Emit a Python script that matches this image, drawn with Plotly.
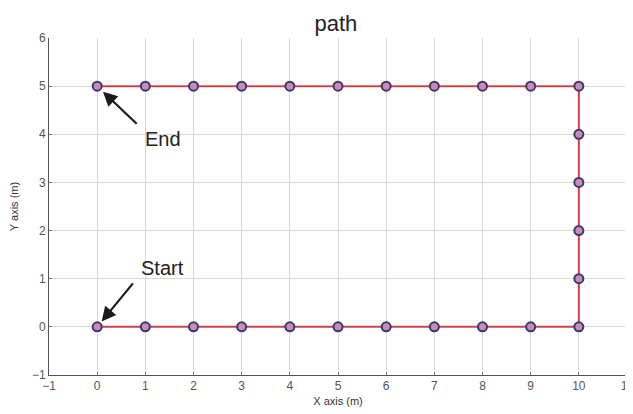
import plotly.graph_objects as go

path_x = [0, 1, 2, 3, 4, 5, 6, 7, 8, 9, 10, 10, 10, 10, 10, 10, 9, 8, 7, 6, 5, 4, 3, 2, 1, 0]
path_y = [0, 0, 0, 0, 0, 0, 0, 0, 0, 0, 0, 1, 2, 3, 4, 5, 5, 5, 5, 5, 5, 5, 5, 5, 5, 5]
x_ticks = [-1, 0, 1, 2, 3, 4, 5, 6, 7, 8, 9, 10, 11]
y_ticks = [-1, 0, 1, 2, 3, 4, 5, 6]

fig = go.Figure()
fig.add_trace(go.Scatter(
    x=path_x, y=path_y, mode="lines+markers",
    line=dict(color="#d2404a", width=2),
    marker=dict(symbol="circle", size=9, color="#c98bb8",
                line=dict(color="#3a3a6a", width=2)),
    showlegend=False))

font = "Liberation Sans, Arial, sans-serif"
# arrows
fig.add_annotation(x=0, y=5, ax=41, ay=39, text="", showarrow=True,
                   arrowhead=2, arrowsize=1.3, arrowwidth=2.2, arrowcolor="#1a1a1a", standoff=8)
fig.add_annotation(x=0, y=0, ax=37, ay=-45, text="", showarrow=True,
                   arrowhead=2, arrowsize=1.3, arrowwidth=2.2, arrowcolor="#1a1a1a", standoff=7)
fig.add_annotation(x=0, y=5, text="End", showarrow=False,
                   xshift=66, yshift=-53, font=dict(family=font, size=20, color="#222"))
fig.add_annotation(x=0, y=0, text="Start", showarrow=False,
                   xshift=65, yshift=59, font=dict(family=font, size=20, color="#222"))

fig.update_layout(
    width=633, height=414,
    margin=dict(l=41, r=14, t=30, b=47, autoexpand=False),
    paper_bgcolor="white", plot_bgcolor="white",
    title=dict(text="path", x=0.518, xanchor="center", y=0.962, yanchor="middle",
               font=dict(family=font, size=22, color="#222"), automargin=False),
    font=dict(family=font),
)
fig.update_xaxes(range=[-1, 11], tickvals=x_ticks, showgrid=True, gridcolor="#d8d8d8",
                 zeroline=False, showline=True, linecolor="#555", linewidth=1,
                 ticks="inside", ticklen=3, tickcolor="#777", automargin=False,
                 tickfont=dict(size=12, color="#555"),
                 title=dict(text="X axis (m)", font=dict(size=11, color="#333"), standoff=4))
fig.update_yaxes(range=[-1, 6], tickvals=y_ticks, showgrid=True, gridcolor="#d8d8d8",
                 zeroline=False, showline=True, linecolor="#555", linewidth=1,
                 ticks="inside", ticklen=3, tickcolor="#777", automargin=False,
                 tickfont=dict(size=12, color="#555"),
                 title=dict(text="Y axis (m)", font=dict(size=11, color="#333"), standoff=14))

fig.write_html("out.html")
